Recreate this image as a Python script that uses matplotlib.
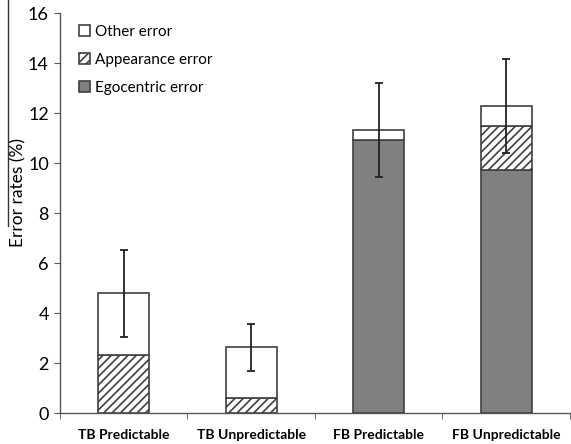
import matplotlib
matplotlib.use("Agg")
import matplotlib.pyplot as plt
import numpy as np
from matplotlib.lines import Line2D

categories = ["TB Predictable", "TB Unpredictable", "FB Predictable", "FB Unpredictable"]
egocentric = [0.0, 0.0, 10.93, 9.75]
appearance = [2.32, 0.60, 0.0, 1.75]
other = [2.48, 2.04, 0.40, 0.80]
err = [1.73, 0.95, 1.87, 1.88]
yticks = [0, 2, 4, 6, 8, 10, 12, 14, 16]

plt.rcParams['font.family'] = ['Lato', 'DejaVu Sans']
plt.rcParams['hatch.color'] = '#404040'
plt.rcParams['hatch.linewidth'] = 1.2

fig = plt.figure(figsize=(5.71, 4.44), dpi=100)
ax = fig.add_axes([0.105, 0.069, 0.893, 0.901])

x = np.arange(len(categories))
w = 0.4
ec = '#404040'
ego = np.array(egocentric)
app = np.array(appearance)
oth = np.array(other)

b1 = ax.bar(x, ego, w, color='#808080', edgecolor=ec, linewidth=1.2, label='Egocentric error')
b2 = ax.bar(x, app, w, bottom=ego, color='white', edgecolor=ec, hatch='////', linewidth=1.2, label='Appearance error')
b3 = ax.bar(x, oth, w, bottom=ego + app, color='white', edgecolor=ec, linewidth=1.2, label='Other error')
total = ego + app + oth
ax.errorbar(x, total, yerr=err, fmt='none', ecolor='#222222', elinewidth=1.3, capsize=3, capthick=1.3)

ax.set_xlim(-0.5, 3.5)
ax.set_ylim(0, 16)
ax.set_yticks(yticks)
ax.set_yticklabels([str(t) for t in yticks], fontsize=13)
ax.set_xticks(x)
ax.set_xticklabels(categories, fontsize=10, fontweight='bold')
ax.tick_params(axis='x', length=0, pad=11)
ax.set_xticks([-0.5, 0.5, 1.5, 2.5, 3.5], minor=True)
ax.tick_params(axis='x', which='minor', length=4, direction='out', color='#555555')
ax.tick_params(axis='y', length=4, direction='out', color='#555555', pad=4)
for s in ['top', 'right']:
    ax.spines[s].set_visible(False)
for s in ['left', 'bottom']:
    ax.spines[s].set_color('#555555')
    ax.spines[s].set_linewidth(1.0)
ax.set_ylabel('Error rates (%)', fontsize=12.5)
ax.yaxis.set_label_coords(-0.065, 0.553)

handles = [b3, b2, b1]
ax.legend(handles, [h.get_label() for h in handles], loc='upper left',
          bbox_to_anchor=(0.01, 1.005), frameon=False, fontsize=11,
          handlelength=0.75, handleheight=0.75, handletextpad=0.3, labelspacing=0.9)

fig.add_artist(Line2D([8/571, 8/571], [1.0, 1 - 226/444], color='#333333', linewidth=1.0))

fig.savefig('out.png', dpi=100)
